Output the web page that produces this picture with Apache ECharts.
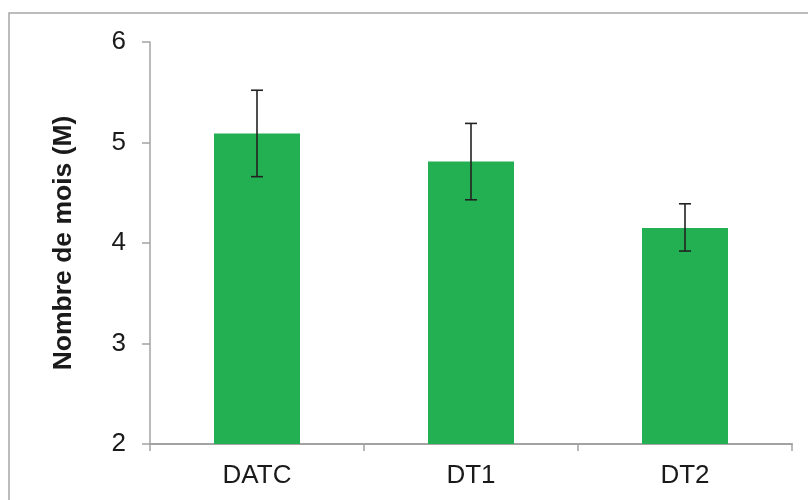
<!DOCTYPE html>
<html>
<head>
<meta charset="utf-8">
<script src="https://cdn.jsdelivr.net/npm/echarts@6/dist/echarts.min.js"></script>
<style>html,body{margin:0;padding:0;background:#fff}#c{width:808px;height:500px}</style>
</head>
<body>
<div id="c"></div>
<script>
var categories = ['DATC', 'DT1', 'DT2'];
var means = [5.09, 4.81, 4.15];
var errLow = [4.66, 4.43, 3.92];
var errHigh = [5.52, 5.19, 4.39];
var yTicks = [2, 3, 4, 5, 6];

var chart = echarts.init(document.getElementById('c'), null, {renderer: 'canvas'});
var font = '"Liberation Sans", Arial, sans-serif';
var axisCol = '#a3a3a3';
chart.setOption({
  animation: false,
  grid: {left: 150, right: 16, top: 42, bottom: 56, containLabel: false},
  graphic: [
    {type: 'polyline', shape: {points: [[9, 500], [9, 13], [808, 13]]}, style: {stroke: '#a6a6a6', lineWidth: 1.5, fill: null}}
  ],
  xAxis: {
    type: 'category',
    data: categories,
    axisLine: {lineStyle: {color: axisCol, width: 2}},
    axisTick: {show: true, length: 7, lineStyle: {color: axisCol, width: 1.5}},
    axisLabel: {color: '#1a1a1a', fontFamily: font, fontSize: 26, margin: 19}
  },
  yAxis: {
    type: 'value',
    min: yTicks[0], max: yTicks[yTicks.length - 1], interval: 1,
    name: 'Nombre de mois (M)',
    nameLocation: 'middle',
    nameGap: 73,
    nameRotate: 90,
    nameTextStyle: {color: '#1a1a1a', fontFamily: font, fontSize: 26.5, fontWeight: 'bold'},
    axisLine: {show: true, lineStyle: {color: axisCol, width: 1.5}},
    axisTick: {show: true, length: 8, lineStyle: {color: axisCol, width: 1.5}},
    splitLine: {show: false},
    axisLabel: {color: '#1a1a1a', fontFamily: font, fontSize: 26, margin: 24}
  },
  series: [
    {
      type: 'bar',
      data: means,
      barWidth: 86,
      itemStyle: {color: '#23b052'}
    },
    {
      type: 'custom',
      data: categories.map(function (c, i) { return [i, errLow[i], errHigh[i]]; }),
      z: 10,
      renderItem: function (params, api) {
        var x = api.value(0);
        var lo = api.coord([x, api.value(1)]);
        var hi = api.coord([x, api.value(2)]);
        var hw = 6;
        var st = {stroke: '#222', lineWidth: 1.6};
        return {
          type: 'group',
          children: [
            {type: 'line', shape: {x1: lo[0], y1: lo[1], x2: hi[0], y2: hi[1]}, style: st},
            {type: 'line', shape: {x1: lo[0] - hw, y1: lo[1], x2: lo[0] + hw, y2: lo[1]}, style: st},
            {type: 'line', shape: {x1: hi[0] - hw, y1: hi[1], x2: hi[0] + hw, y2: hi[1]}, style: st}
          ]
        };
      }
    }
  ]
});
</script>
</body>
</html>
